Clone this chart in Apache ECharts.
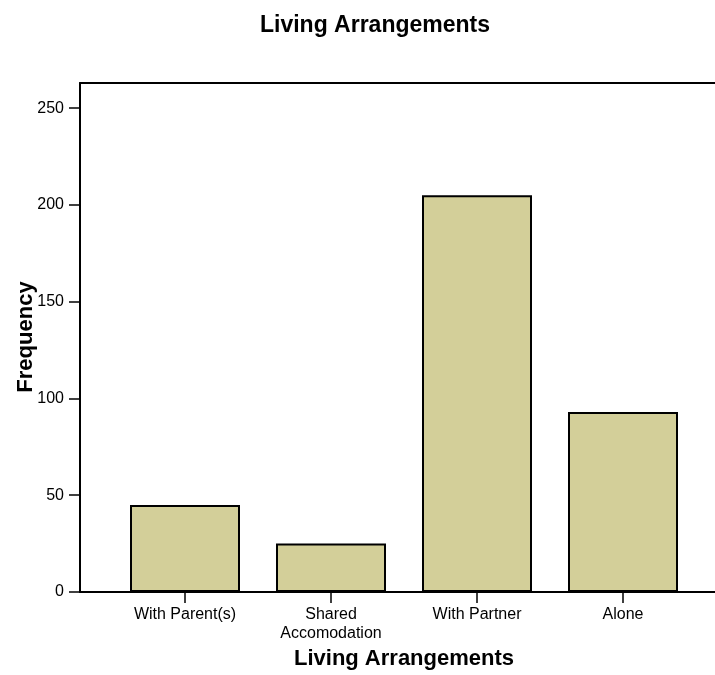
<!DOCTYPE html>
<html>
<head>
<meta charset="utf-8">
<script src="https://cdn.jsdelivr.net/npm/echarts@6/dist/echarts.min.js"></script>
<style>
html,body{margin:0;padding:0;background:#fff;}
#c{width:715px;height:675px;}
</style>
</head>
<body>
<div id="c"></div>
<script>
const categories = ['With Parent(s)', 'Shared\nAccomodation', 'With Partner', 'Alone'];
const frequency = [45, 25, 205, 93];
const yTicks = { min: 0, max: 263, interval: 50 };

const FONT = '"Liberation Sans", Arial, sans-serif';
const chart = echarts.init(document.getElementById('c'), null, { renderer: 'canvas' });

const option = {
  backgroundColor: '#ffffff',
  animation: false,
  title: {
    text: 'Living Arrangements',
    left: 370,
    top: 9,
    textAlign: 'center',
    textStyle: { fontFamily: FONT, fontSize: 23, fontWeight: 'bold', color: '#000' }
  },
  graphic: [{
    type: 'text',
    x: 26,
    y: 337,
    rotation: Math.PI / 2,
    style: {
      text: 'Frequency',
      fontFamily: FONT, fontSize: 22, fontWeight: 'bold', fill: '#000',
      align: 'center', verticalAlign: 'middle'
    }
  }],
  grid: [
    { left: 80, right: 0, top: 83, bottom: 83, containLabel: false },
    { left: 112, right: 19, top: 83, bottom: 83, containLabel: false }
  ],
  xAxis: [
    { gridIndex: 0, type: 'value', min: 0, max: 1, position: 'bottom',
      axisLine: { show: true, onZero: false, lineStyle: { color: '#000', width: 2 } },
      axisTick: { show: false }, axisLabel: { show: false }, splitLine: { show: false } },
    { gridIndex: 0, type: 'value', min: 0, max: 1, position: 'top',
      axisLine: { show: true, onZero: false, lineStyle: { color: '#000', width: 2 } },
      axisTick: { show: false }, axisLabel: { show: false }, splitLine: { show: false } },
    { gridIndex: 1, type: 'category', data: categories, position: 'bottom',
      axisLine: { show: false },
      axisTick: { show: true, alignWithLabel: true, length: 11, lineStyle: { color: '#000', width: 1.5 } },
      axisLabel: { margin: 13, fontFamily: FONT, fontSize: 16, color: '#000', lineHeight: 19, interval: 0 },
      name: 'Living Arrangements', nameLocation: 'middle', nameGap: 55,
      nameTextStyle: { fontFamily: FONT, fontSize: 22, fontWeight: 'bold', color: '#000', verticalAlign: 'top' }
    }
  ],
  yAxis: [
    { gridIndex: 0, type: 'value', min: yTicks.min, max: yTicks.max, interval: yTicks.interval,
      axisLine: { show: true, lineStyle: { color: '#000', width: 2 } },
      axisTick: { show: true, length: 11, lineStyle: { color: '#000', width: 1.5 } },
      axisLabel: { margin: 16, fontFamily: FONT, fontSize: 16, color: '#000', showMaxLabel: false },
      splitLine: { show: false } },
    { gridIndex: 1, type: 'value', min: yTicks.min, max: yTicks.max, interval: yTicks.interval, show: false }
  ],
  series: [{
    type: 'bar',
    xAxisIndex: 2,
    yAxisIndex: 1,
    data: frequency,
    barWidth: 110,
    itemStyle: { color: '#d3cf99', borderColor: '#000', borderWidth: 2 }
  }]
};
chart.setOption(option);
</script>
</body>
</html>
